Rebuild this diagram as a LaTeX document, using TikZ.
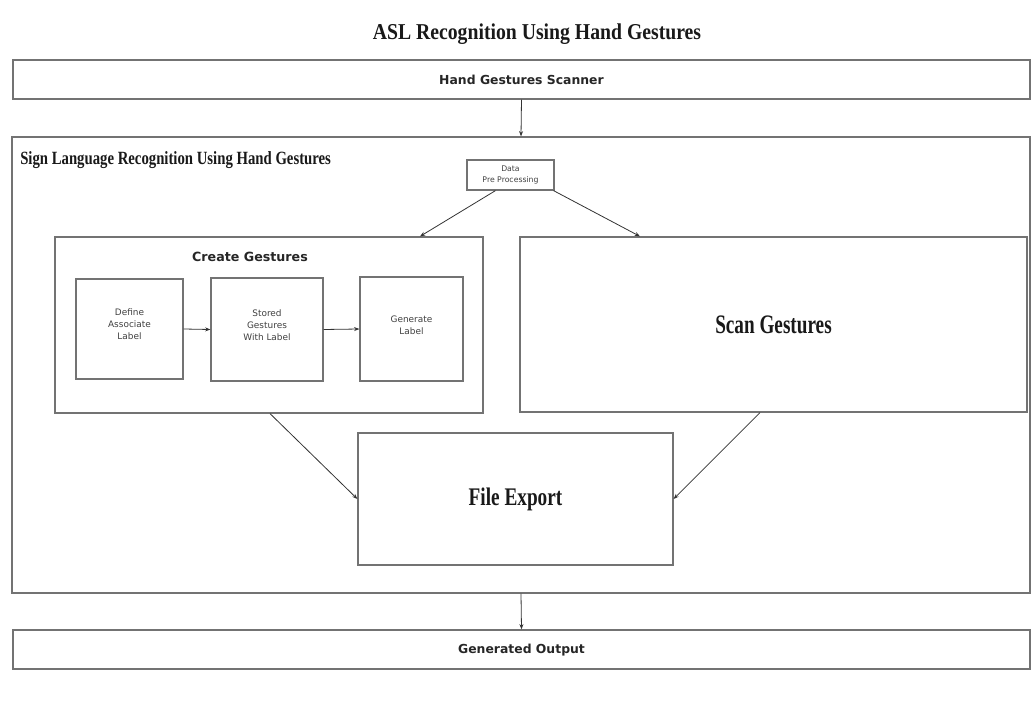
\documentclass[tikz,border=0pt]{standalone}
\usepackage{fontspec}
\setmainfont{Liberation Serif}
\newfontfamily\boxfont{DejaVu Sans}
\usetikzlibrary{arrows.meta}
\begin{document}
\begin{tikzpicture}[x=0.75pt,y=-0.75pt,
  frame/.style={draw=black!55, line width=0.9pt, inner sep=0pt},
  flow/.style={draw=black!80, line width=0.6pt, -{Stealth[length=4pt,width=3pt]}},
  headtext/.style={font=\bfseries, text=black!90, inner sep=0pt},
  sanstext/.style={font=\boxfont\fontsize{6.7pt}{9pt}\selectfont, text=black!75, align=center, inner sep=0pt},
  bartext/.style={font=\boxfont\bfseries\fontsize{9.3pt}{11pt}\selectfont, text=black!85, inner sep=0pt}]
\useasboundingbox (0,0) rectangle (1033,702);

% title
\node[headtext, font=\bfseries\fontsize{17pt}{19pt}\selectfont, anchor=base] (title) at (537,40) {\scalebox{0.87}[1]{ASL Recognition Using Hand Gestures}};

% top and bottom bars
\node[frame, minimum width=1017*0.75pt, minimum height=39*0.75pt] (scanner) at (521.5,79.5) {};
\node[bartext] at ([yshift=-0.5*0.75pt]scanner.center) {Hand Gestures Scanner};
\node[frame, minimum width=1017*0.75pt, minimum height=39*0.75pt] (output) at (521.5,649.5) {};
\node[bartext] at ([yshift=-1*0.75pt]output.center) {Generated Output};

% system frame
\node[frame, minimum width=1018*0.75pt, minimum height=456*0.75pt] (system) at (521,365) {};
\node[headtext, font=\bfseries\fontsize{14pt}{16pt}\selectfont, anchor=base west] (systitle) at (20,165) {\scalebox{0.79}[1]{Sign Language Recognition Using Hand Gestures}};

% preprocessing
\node[frame, minimum width=87*0.75pt, minimum height=30*0.75pt] (prep) at (510.5,175) {};
\node[sanstext, font=\boxfont\fontsize{5.8pt}{8pt}\selectfont] at (prep) {Data\\Pre Processing};

% create gestures group
\node[frame, minimum width=428*0.75pt, minimum height=176*0.75pt] (create) at (269,325) {};
\node[bartext, font=\boxfont\bfseries\fontsize{9.5pt}{11pt}\selectfont] (createtitle) at (250,257) {Create Gestures};
\node[frame, minimum width=107*0.75pt, minimum height=100*0.75pt] (define) at (129.5,329) {};
\node[sanstext] at ([yshift=5*0.75pt]define.center) {Define\\Associate\\Label};
\node[frame, minimum width=112*0.75pt, minimum height=103*0.75pt] (stored) at (267,329.5) {};
\node[sanstext] at ([yshift=4*0.75pt]stored.center) {Stored\\Gestures\\With Label};
\node[frame, minimum width=103*0.75pt, minimum height=104*0.75pt] (generate) at (411.5,329) {};
\node[sanstext] at ([yshift=4*0.75pt]generate.center) {Generate\\Label};

% scan gestures
\node[frame, minimum width=507*0.75pt, minimum height=175*0.75pt] (scan) at (773.5,324.5) {};
\node[headtext, font=\bfseries\fontsize{20pt}{22pt}\selectfont] at (scan) {\scalebox{0.72}[1]{Scan Gestures}};

% file export
\node[frame, minimum width=315*0.75pt, minimum height=132*0.75pt] (export) at (515.5,499) {};
\node[headtext, font=\bfseries\fontsize{19pt}{21pt}\selectfont] at (export) {\scalebox{0.76}[1]{File Export}};

% connectors
\coordinate (pl) at ([xshift=-15*0.75pt]prep.south);
\coordinate (pr) at ([xshift=43*0.75pt]prep.south);
\coordinate (ct) at ([xshift=151*0.75pt]create.north);
\coordinate (st) at ([xshift=-133.5*0.75pt]scan.north);
\coordinate (cb) at ([xshift=1*0.75pt]create.south);
\coordinate (sb) at ([xshift=-13.5*0.75pt]scan.south);
\draw[flow] (scanner.south) -- (system.north);
\draw[flow] (pl) -- (ct);
\draw[flow] (pr) -- (st);
\draw[flow] (define.east) -- (stored.west);
\draw[flow] (stored.east) -- (generate.west);
\draw[flow] (cb) -- (export.west);
\draw[flow] (sb) -- (export.east);
\draw[flow] (system.south) -- (output.north);
\end{tikzpicture}
\end{document}
